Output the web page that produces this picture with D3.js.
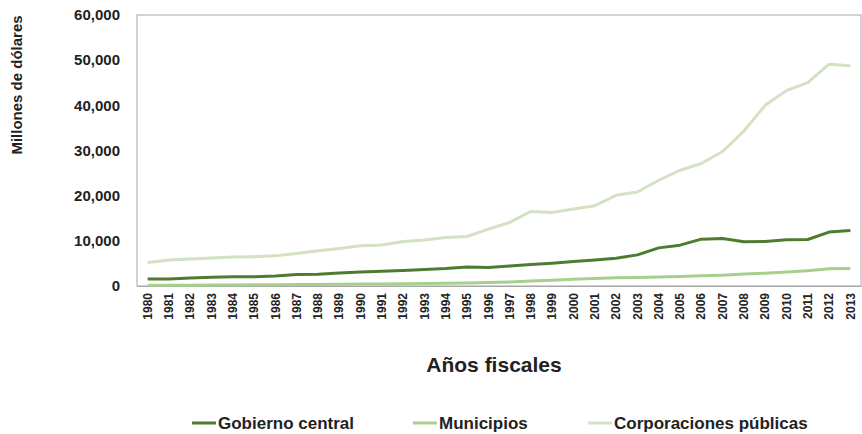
<!DOCTYPE html>
<html>
<head>
<meta charset="utf-8">
<script src="https://cdn.jsdelivr.net/npm/d3@7"></script>
<style>
  body { margin: 0; background: #fff; }
  text { font-family: "Liberation Sans", Arial, sans-serif; font-weight: bold; fill: #222; }
</style>
</head>
<body>
<div id="chart"></div>
<script>
var years = d3.range(1980, 2014).map(String);

var gobierno = [1550, 1560, 1780, 1920, 2070, 2070, 2220, 2520, 2590, 2890,
  3110, 3260, 3410, 3630, 3850, 4220, 4100, 4440, 4740, 5040,
  5410, 5780, 6150, 6890, 8440, 9040, 10370, 10520, 9780, 9850,
  10220, 10300, 11930, 12300];

var municipios = [150, 170, 190, 210, 230, 260, 290, 320, 350, 380,
  420, 460, 500, 560, 620, 690, 780, 900, 1100, 1300,
  1500, 1650, 1800, 1900, 2000, 2100, 2250, 2400, 2650, 2850,
  3100, 3400, 3800, 3850];

var corporaciones = [5180, 5780, 6000, 6200, 6400, 6500, 6670, 7200, 7800, 8300,
  8890, 9100, 9850, 10200, 10740, 10960, 12590, 14070, 16510, 16300,
  17040, 17780, 20070, 20800, 23410, 25630, 27110, 29780, 34300, 40000,
  43260, 45040, 49110, 48740];

var yTicks = [0, 10000, 20000, 30000, 40000, 50000, 60000];

var series = [
  {name: "Gobierno central", values: gobierno, color: "#4d7c30"},
  {name: "Municipios", values: municipios, color: "#a8d08d"},
  {name: "Corporaciones públicas", values: corporaciones, color: "#d3e2c3"}
];

var W = 862, H = 434;
var plotL = 137, plotR = 861, plotT = 15, plotB = 286;

var svg = d3.select("#chart").append("svg")
    .attr("width", W)
    .attr("height", H);

var x = d3.scaleBand().domain(years).range([plotL, plotR]);
var y = d3.scaleLinear().domain([0, 60000]).range([plotB, plotT]);

// frame
svg.append("rect")
    .attr("x", plotL).attr("y", plotT)
    .attr("width", plotR - plotL).attr("height", plotB - plotT)
    .attr("fill", "none")
    .attr("stroke", "#a6a6a6")
    .attr("stroke-width", 1);

// y axis
var yAxis = svg.append("g")
    .attr("transform", "translate(" + plotL + ",0)")
    .call(d3.axisLeft(y).tickValues(yTicks).tickSize(0).tickPadding(17)
      .tickFormat(d3.format(",")));
yAxis.select(".domain").remove();
yAxis.selectAll("text")
    .style("font-size", "15px")
    .style("font-family", "'Liberation Sans', Arial, sans-serif")
    .style("font-weight", "bold")
    .attr("fill", "#222");

// x axis
var xAxis = svg.append("g")
    .attr("transform", "translate(0," + plotB + ")")
    .call(d3.axisBottom(x).tickSize(0).tickPadding(0));
xAxis.select(".domain").attr("stroke", "#a6a6a6");
xAxis.selectAll("text")
    .style("font-size", "12px")
    .style("font-family", "'Liberation Sans', Arial, sans-serif")
    .style("font-weight", "bold")
    .attr("fill", "#222")
    .attr("transform", "rotate(-90)")
    .attr("text-anchor", "end")
    .attr("x", -7)
    .attr("y", 0)
    .attr("dy", "0.35em");

// lines
var line = d3.line()
    .x(function(d, i) { return x(years[i]) + x.bandwidth() / 2; })
    .y(function(d) { return y(d); });

series.slice().reverse().forEach(function(s) {
  svg.append("path")
      .attr("d", line(s.values))
      .attr("fill", "none")
      .attr("stroke", s.color)
      .attr("stroke-width", 3)
      .attr("stroke-linejoin", "round");
});

// axis titles
svg.append("text")
    .attr("transform", "translate(22,85) rotate(-90)")
    .attr("text-anchor", "middle")
    .style("font-size", "15px")
    .text("Millones de dólares");

svg.append("text")
    .attr("x", 494).attr("y", 372)
    .attr("text-anchor", "middle")
    .style("font-size", "21px")
    .text("Años fiscales");

// legend
var legendX = [192, 413, 588];
series.forEach(function(s, i) {
  var g = svg.append("g").attr("transform", "translate(" + legendX[i] + ",423)");
  g.append("line")
      .attr("x1", 0).attr("x2", 24)
      .attr("stroke", s.color)
      .attr("stroke-width", 3);
  g.append("text")
      .attr("x", 26).attr("y", 6)
      .style("font-size", "17px")
      .text(s.name);
});
</script>
</body>
</html>
